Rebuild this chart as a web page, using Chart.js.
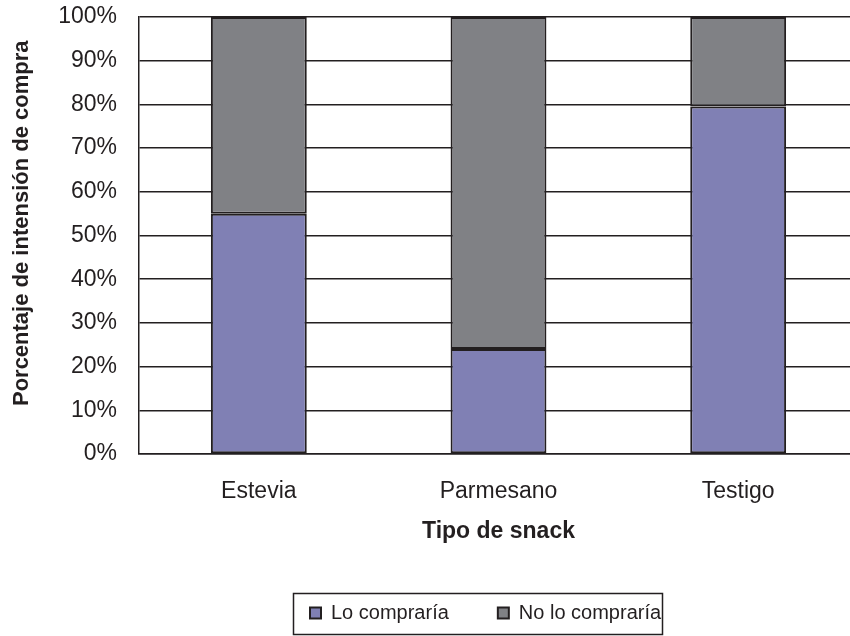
<!DOCTYPE html>
<html>
<head>
<meta charset="utf-8">
<script src="https://cdn.jsdelivr.net/npm/chart.js@4/dist/chart.umd.min.js"></script>
<style>
  html, body { margin: 0; padding: 0; background: #fff; overflow: hidden; }
  #wrap { width: 850px; height: 636px; overflow: hidden; }
</style>
</head>
<body>
<div id="wrap"><canvas id="c" width="858" height="636"></canvas></div>
<script>
// Purchase intention by snack type (percent of panel)
const categories = ['Estevia', 'Parmesano', 'Testigo'];
const seriesNames = ['Lo compraría', 'No lo compraría'];
const wouldBuy = [55, 24, 79.5];
const wouldNotBuy = [45, 76, 20.5];
const yTicks = [0, 10, 20, 30, 40, 50, 60, 70, 80, 90, 100];

const FONT = "'Liberation Sans', Arial, sans-serif";
const INK = '#231f20';

// Places the legend row and draws the frame around it
const legendFrame = {
  id: 'legendFrame',
  afterLayout(chart) {
    const lg = chart.legend;
    lg.left = 261; lg.right = 858;
    lg.top = 554; lg.bottom = 640;
    lg.width = lg.right - lg.left;
    lg.height = lg.bottom - lg.top;
  },
  afterDraw(chart) {
    const ctx = chart.ctx;
    ctx.save();
    ctx.strokeStyle = INK;
    ctx.lineWidth = 1.5;
    ctx.strokeRect(293.5, 593.5, 369, 41);
    ctx.restore();
  }
};

new Chart(document.getElementById('c'), {
  type: 'bar',
  data: {
    labels: categories,
    datasets: [
      { label: seriesNames[0], data: wouldBuy, backgroundColor: '#8080b4', borderColor: INK, borderWidth: 2, borderSkipped: false },
      { label: seriesNames[1], data: wouldNotBuy, backgroundColor: '#808185', borderColor: INK, borderWidth: 2, borderSkipped: false }
    ]
  },
  options: {
    responsive: false,
    animation: false,
    devicePixelRatio: 1,
    layout: { padding: { top: 17, left: 0, right: 0, bottom: 0 } },
    datasets: { bar: { categoryPercentage: 1, barPercentage: 0.4 } },
    plugins: {
      tooltip: { enabled: false },
      legend: {
        position: 'bottom',
        align: 'start',
        maxHeight: 1,
        labels: {
          font: { family: FONT, size: 20 },
          color: INK,
          boxWidth: 11,
          boxHeight: 11,
          padding: 49
        }
      }
    },
    scales: {
      x: {
        stacked: true,
        grid: { display: false, drawTicks: false },
        border: { display: true, color: INK, width: 1.5 },
        ticks: { font: { family: FONT, size: 23 }, color: INK, padding: 24 },
        title: {
          display: true, text: 'Tipo de snack', color: INK,
          font: { family: FONT, size: 23, weight: 'bold' },
          padding: { top: 0, bottom: 90 }
        },
        afterFit(scale) { scale.height = 181; }
      },
      y: {
        stacked: true,
        min: 0, max: 100,
        afterBuildTicks(scale) { scale.ticks = yTicks.map(v => ({ value: v })); },
        grid: { color: INK, lineWidth: 1.5, drawTicks: true, tickLength: 22, tickColor: 'rgba(0,0,0,0)' },
        border: { display: true, color: INK, width: 1.5 },
        ticks: {
          font: { family: FONT, size: 23 }, color: INK, padding: 0,
          callback: v => v + '%'
        },
        title: {
          display: true, text: '    Porcentaje de intensión de compra', color: INK,
          font: { family: FONT, size: 22, weight: 'bold' },
          padding: { top: 9, bottom: 0 }
        },
        afterFit(scale) { scale.width = 139; }
      }
    }
  },
  plugins: [legendFrame]
});
</script>
</body>
</html>
